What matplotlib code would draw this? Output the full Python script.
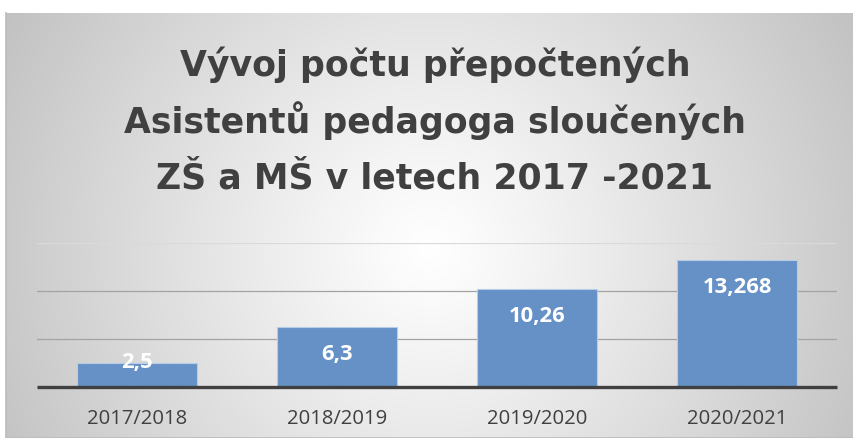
import numpy as np
import matplotlib
matplotlib.use("Agg")
import matplotlib.pyplot as plt

categories = ["2017/2018", "2018/2019", "2019/2020", "2020/2021"]
values = [2.5, 6.3, 10.26, 13.268]
value_labels = ["2,5", "6,3", "10,26", "13,268"]
title_lines = ["Vývoj počtu přepočtených", "Asistentů pedagoga sloučených",
               "ZŠ a MŠ v letech 2017 -2021"]

W, H = 854, 439
FONT = "Open Sans"
TFONT = "DejaVu Sans"
fig = plt.figure(figsize=(W / 100, H / 100), dpi=100)
fig.patch.set_facecolor("white")

# background radial gradient panel
bx0, by_top = 6, 14
bg = fig.add_axes([bx0 / W, 0, (W - bx0) / W, (H - by_top) / H], zorder=-5)
nx, ny = 424, 213
xx, yy = np.meshgrid(np.linspace(0, 1, nx), np.linspace(0, 1, ny))
cx, cy = (430 - bx0) / (W - bx0), (250 - by_top) / (H - by_top)
asp = (H - by_top) / (W - bx0)
r = np.sqrt(((xx - cx)) ** 2 + ((yy - cy) * asp) ** 2)
r = r / r.max()
val = 1.0 - 0.24 * np.clip(r, 0, 1) ** 1.1
img = np.dstack([val, val, val])
bg.imshow(img, extent=[0, 1, 1, 0], aspect="auto", interpolation="bilinear")
bg.set_xlim(0, 1)
bg.set_ylim(1, 0)
bg.axis("off")
bg.plot([0, 0], [0, 1], color="#BBBBBB", lw=1.2, transform=bg.transAxes, clip_on=False)
bg.plot([0, 1], [0, 0], color="#BBBBBB", lw=1.2, transform=bg.transAxes, clip_on=False)

# main axes
ymax = 15
px_per_unit = 9.566
base_y = 387.9
top_y = base_y - ymax * px_per_unit
ax = fig.add_axes([37 / W, (H - base_y) / H, 800 / W, (base_y - top_y) / H])
ax.set_facecolor("none")
x = np.arange(len(categories))
ax.bar(x, values, width=0.6, color="#6691C6", edgecolor="#B7CCE8", linewidth=0.8, zorder=3)
ax.set_xlim(-0.5, len(categories) - 0.5)
ax.set_ylim(0, ymax)
for g, c in [(5, "#A3A3A3"), (10, "#A3A3A3"), (15, "#DADADA")]:
    ax.axhline(g, color=c, lw=0.9, zorder=1)
ax.axhline(0, color="#404040", lw=2.4, zorder=4, clip_on=False, solid_capstyle="butt")
for s in ax.spines.values():
    s.set_visible(False)
ax.set_yticks([])
ax.set_xticks(x)
ax.set_xticklabels(categories, fontsize=14.6, color="#404040", family=FONT)
ax.tick_params(axis="x", length=0, pad=15)

for xi, v, lab in zip(x, values, value_labels):
    ly = v - 2.8 if v > 5 else v + 0.2
    ax.text(xi, ly, lab, ha="center", va="center", color="white",
            fontsize=15.8, fontweight="bold", family=FONT, zorder=5)

baselines = [76, 132.5, 189]
for line, b in zip(title_lines, baselines):
    fig.text(435 / W, 1 - b / H, line, ha="center", va="baseline", fontsize=25,
             fontweight="bold", color="#404040", family=TFONT)

fig.savefig("out.png", dpi=100)
